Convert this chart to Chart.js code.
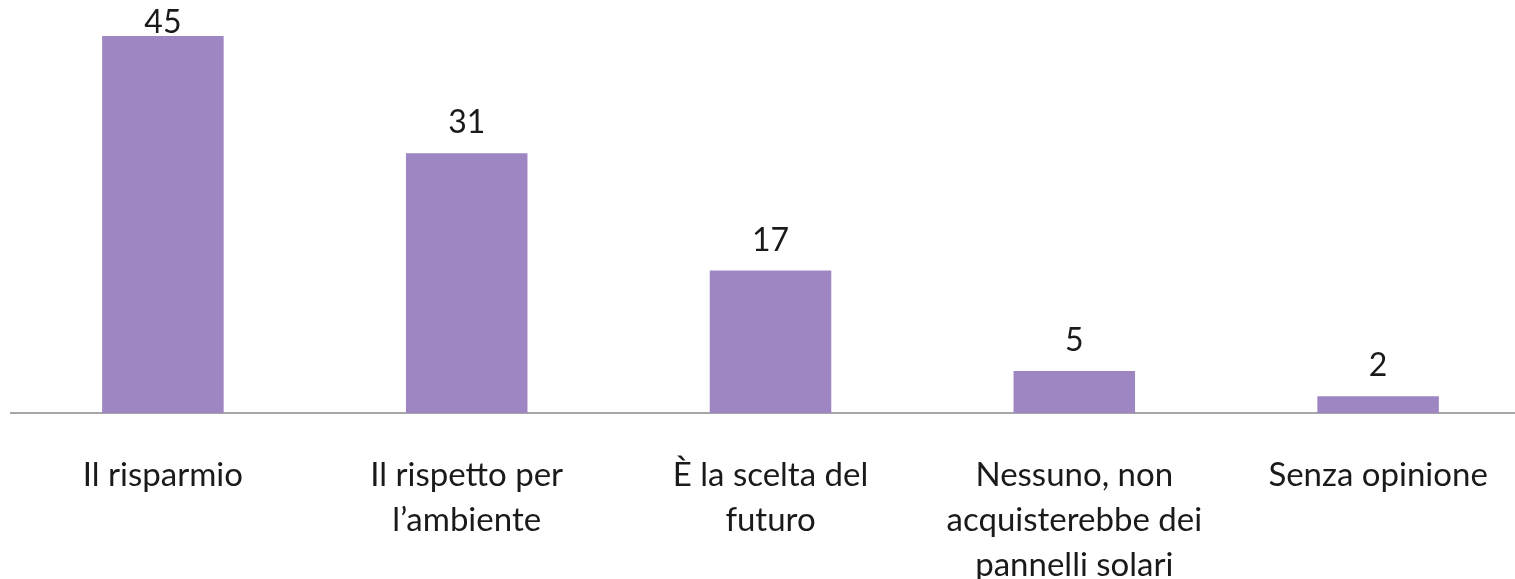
<!DOCTYPE html>
<html>
<head>
<meta charset="utf-8">
<script src="https://cdn.jsdelivr.net/npm/chart.js@4"></script>
<style>
  html, body { margin: 0; padding: 0; background: #fff; overflow: hidden; }
  #wrap { width: 1540px; height: 579px; }
</style>
</head>
<body>
<div id="wrap"><canvas id="chart" width="1540" height="579"></canvas></div>
<script>
// Data
const categories = [
    'Il risparmio',
    ['Il rispetto per', 'l\u2019ambiente'],
    ['\u00C8 la scelta del', 'futuro'],
    ['Nessuno, non', 'acquisterebbe dei', 'pannelli solari'],
    'Senza opinione'
];
const values = [45, 31, 17, 5, 2];

const barColor = '#9D86C1';
const fontFamily = 'Lato, "Open Sans", sans-serif';

// value labels above each bar
const valueLabels = {
    id: 'valueLabels',
    afterDatasetsDraw(chart) {
        const ctx = chart.ctx;
        const meta = chart.getDatasetMeta(0);
        ctx.save();
        ctx.font = '32px ' + fontFamily;
        ctx.fillStyle = '#1a1a1a';
        ctx.textAlign = 'center';
        ctx.textBaseline = 'alphabetic';
        meta.data.forEach((bar, i) => {
            const y = Math.max(bar.y - 20, 33);
            ctx.fillText(values[i], bar.x, y);
        });
        ctx.restore();
    }
};

new Chart(document.getElementById('chart').getContext('2d'), {
    type: 'bar',
    data: {
        labels: categories,
        datasets: [{
            data: values,
            backgroundColor: barColor,
            borderWidth: 0,
            categoryPercentage: 1,
            barPercentage: 0.4
        }]
    },
    options: {
        responsive: false,
        animation: false,
        layout: { padding: { top: 36, left: 11, right: 10, bottom: 0 } },
        plugins: {
            legend: { display: false },
            tooltip: { enabled: false }
        },
        scales: {
            y: {
                display: false,
                min: 0,
                max: 45
            },
            x: {
                afterFit: function(scale) { scale.height = 166; },
                grid: { display: false, drawTicks: false },
                border: { display: true, color: '#A6A6A6', width: 2 },
                ticks: {
                    color: '#1a1a1a',
                    padding: 40,
                    maxRotation: 0,
                    autoSkip: false,
                    font: { family: fontFamily, size: 33, lineHeight: 1.36 }
                }
            }
        }
    },
    plugins: [valueLabels]
});
</script>
</body>
</html>
